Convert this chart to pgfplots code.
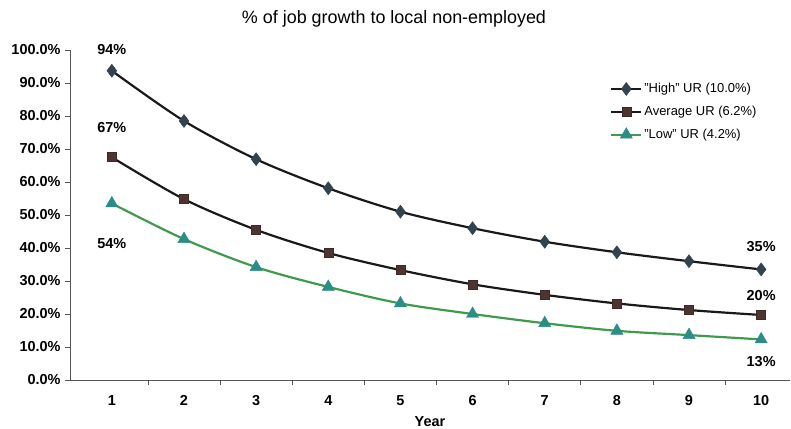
\documentclass[border=0pt]{standalone}
\usepackage{pgfplots}
\pgfplotsset{compat=1.18}
\usepackage{fontspec}
\setmainfont{Liberation Sans}
\definecolor{hiM}{HTML}{33434E}
\definecolor{avM}{HTML}{4E3430}
\definecolor{loM}{HTML}{2C8C86}
\definecolor{loL}{HTML}{3E9B4C}
\definecolor{axc}{HTML}{555555}
\begin{document}
\begin{tikzpicture}
\begin{axis}[
  at={(70bp,49bp)}, anchor=south west,
  scale only axis,
  width=720bp, height=330bp,
  xmin=0.42, xmax=10.4,
  ymin=0, ymax=100,
  axis x line=bottom, axis y line=left,
  axis line style={-, axc, line width=0.8pt},
  xtick={1,...,10},
  xticklabels={1,2,3,4,5,6,7,8,9,10},
  major x tick style={draw=none},
  minor xtick={1.5,2.5,...,9.5},
  minor x tick style={axc, line width=0.8pt},
  ytick={0,10,...,100},
  yticklabels={0.0\%,10.0\%,20.0\%,30.0\%,40.0\%,50.0\%,60.0\%,70.0\%,80.0\%,90.0\%,100.0\%},
  y tick style={axc, line width=0.8pt},
  tick align=outside,
  major tick length=5bp, minor tick length=5bp,
  ticklabel style={font=\fontsize{14.5}{16}\selectfont\bfseries},
  xticklabel style={yshift=-7bp},
  yticklabel style={xshift=-1bp},
  xlabel={Year},
  xlabel style={font=\fontsize{14.5}{16}\selectfont\bfseries, yshift=-4bp},
  legend style={at={(0.75,0.905)}, anchor=north west, draw=none, fill=none,
    font=\fontsize{13}{15}\selectfont, row sep=8bp,
    legend cell align=left, inner sep=0pt},
  legend image code/.code={\draw[mark repeat=2,mark phase=2] plot coordinates {(0bp,0bp) (15bp,0bp) (30bp,0bp)};},
  clip=false,
]
\addplot[black!90, line width=2.2pt, smooth, mark=diamond*, mark size=6.5bp,
  mark options={fill=hiM, draw=hiM, line width=0.5pt}]
  coordinates {(1,93.7) (2,78.5) (3,66.9) (4,58.1) (5,51.0) (6,46.0) (7,41.9) (8,38.7) (9,36.0) (10,33.5)};
\addlegendentry{"High" UR (10.0\%)}
\addplot[black!90, line width=2.2pt, smooth, mark=square*, mark size=4.5bp,
  mark options={fill=avM, draw=avM!80!black, line width=0.5pt}]
  coordinates {(1,67.5) (2,54.8) (3,45.5) (4,38.5) (5,33.3) (6,29.0) (7,25.8) (8,23.2) (9,21.2) (10,19.7)};
\addlegendentry{Average UR (6.2\%)}
\addplot[loL, line width=2.2pt, smooth, mark=triangle*, mark size=7bp,
  mark options={fill=loM, draw=loM, line width=0.5pt}]
  coordinates {(1,53.5) (2,42.7) (3,34.2) (4,28.2) (5,23.2) (6,20.0) (7,17.2) (8,14.9) (9,13.6) (10,12.3)};
\addlegendentry{"Low" UR (4.2\%)}
\node[font=\fontsize{14.5}{16}\selectfont\bfseries] at (axis cs:1,100) {94\%};
\node[font=\fontsize{14.5}{16}\selectfont\bfseries] at (axis cs:1,76.5) {67\%};
\node[font=\fontsize{14.5}{16}\selectfont\bfseries] at (axis cs:1,41.5) {54\%};
\node[font=\fontsize{14.5}{16}\selectfont\bfseries] at (axis cs:10,40.5) {35\%};
\node[font=\fontsize{14.5}{16}\selectfont\bfseries] at (axis cs:10,25.5) {20\%};
\node[font=\fontsize{14.5}{16}\selectfont\bfseries] at (axis cs:10,5.5) {13\%};
\node[font=\fontsize{18}{20}\selectfont] at (rel axis cs:0.45,1.095) {\% of job growth to local non-employed};
\end{axis}
\pgfresetboundingbox
\useasboundingbox (0,0) rectangle (791bp,429bp);
\end{tikzpicture}
\end{document}
